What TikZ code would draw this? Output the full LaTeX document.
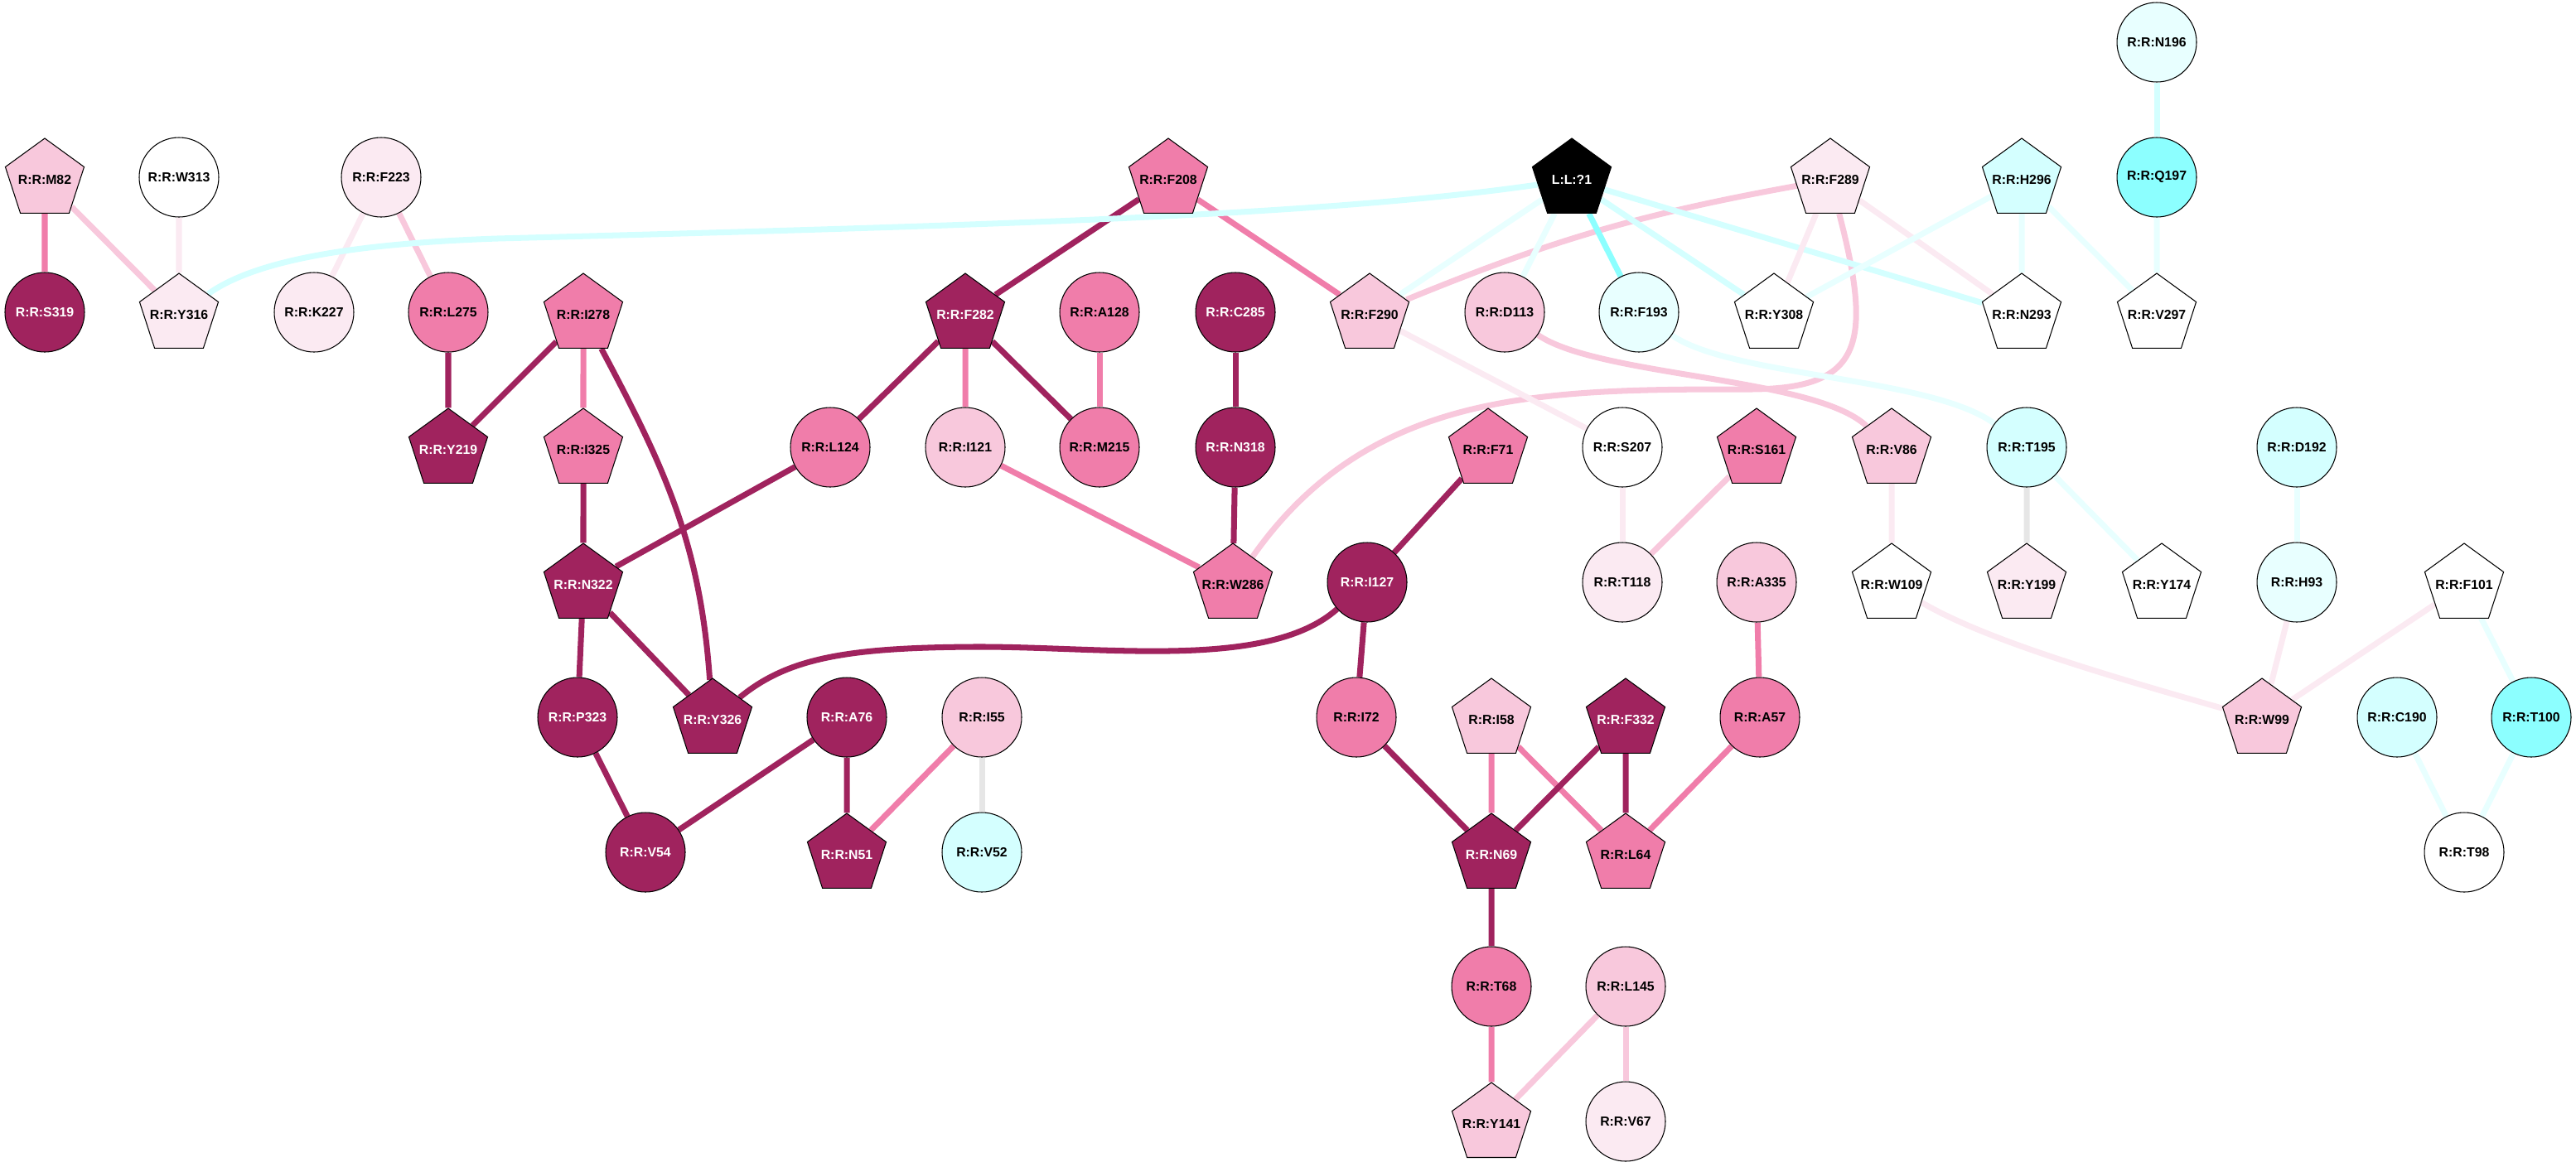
\documentclass[tikz,border=0pt]{standalone}
\usepackage{fontspec}
\usepackage{tikz}
\usetikzlibrary{shapes.geometric}
\newfontfamily\labfont{Liberation Sans}
\newcommand{\reslabel}{\labfont\bfseries\fontsize{4.5}{5}\selectfont}
\definecolor{cdark}{RGB}{160,35,94}
\definecolor{cmed}{RGB}{240,125,170}
\definecolor{clight}{RGB}{248,200,220}
\definecolor{cvlight}{RGB}{251,234,242}
\definecolor{ccyan}{RGB}{140,255,255}
\definecolor{clcyan}{RGB}{212,255,255}
\definecolor{cvcyan}{RGB}{232,255,255}
\definecolor{cgrey}{RGB}{230,230,230}
\pgfdeclarelayer{edges}
\pgfsetlayers{edges,main}
\tikzset{
  res/.style={circle, draw, line width=0.3pt, minimum size=0.96cm, inner sep=0pt, font=\reslabel},
  pent/.style={regular polygon, regular polygon sides=5, draw, line width=0.3pt, minimum size=1.0cm,
    inner xsep=-0.15cm, inner ysep=0pt, yshift=-0.03cm, font=\reslabel},
  dk/.style={fill=cdark, text=white}, md/.style={fill=cmed}, lt/.style={fill=clight},
  vl/.style={fill=cvlight}, wh/.style={fill=white}, cy/.style={fill=ccyan},
  lc/.style={fill=clcyan}, vc/.style={fill=cvcyan}, lig/.style={fill=black, text=white},
  ldk/.style={line width=2pt, draw=cdark}, lmd/.style={line width=2pt, draw=cmed},
  llt/.style={line width=2pt, draw=clight}, lvl/.style={line width=2pt, draw=cvlight},
  lgr/.style={line width=2pt, draw=cgrey}, lcy/.style={line width=2pt, draw=ccyan},
  llc/.style={line width=2pt, draw=clcyan}, lvc/.style={line width=2pt, draw=cvcyan}
}
\begin{document}
\begin{tikzpicture}
\useasboundingbox (0,0) rectangle (31.09,-14.08);

\node[res,vc] (n196) at (26.03,-0.51) {R:R:N196};

\node[pent,lt] (m82) at (0.54,-2.14) {R:R:M82};
\node[res,wh] (w313) at (2.16,-2.14) {R:R:W313};
\node[res,vl] (f223) at (4.60,-2.14) {R:R:F223};
\node[pent,md] (f208) at (14.10,-2.14) {R:R:F208};
\node[pent,lig] (l1) at (18.97,-2.14) {L:L:?1};
\node[pent,vl] (f289) at (22.09,-2.14) {R:R:F289};
\node[pent,lc] (h296) at (24.40,-2.14) {R:R:H296};
\node[res,cy] (q197) at (26.03,-2.14) {R:R:Q197};

\node[res,dk] (s319) at (0.54,-3.77) {R:R:S319};
\node[pent,vl] (y316) at (2.16,-3.77) {R:R:Y316};
\node[res,vl] (k227) at (3.79,-3.77) {R:R:K227};
\node[res,md] (l275) at (5.41,-3.77) {R:R:L275};
\node[pent,md] (i278) at (7.04,-3.77) {R:R:I278};
\node[pent,dk] (f282) at (11.65,-3.77) {R:R:F282};
\node[res,md] (a128) at (13.27,-3.77) {R:R:A128};
\node[res,dk] (c285) at (14.91,-3.77) {R:R:C285};
\node[pent,lt] (f290) at (16.53,-3.77) {R:R:F290};
\node[res,lt] (d113) at (18.16,-3.77) {R:R:D113};
\node[res,vc] (f193) at (19.78,-3.77) {R:R:F193};
\node[pent,wh] (y308) at (21.41,-3.77) {R:R:Y308};
\node[pent,wh] (n293) at (24.40,-3.77) {R:R:N293};
\node[pent,wh] (v297) at (26.03,-3.77) {R:R:V297};

\node[pent,dk] (y219) at (5.41,-5.40) {R:R:Y219};
\node[pent,md] (i325) at (7.04,-5.40) {R:R:I325};
\node[res,md] (l124) at (10.02,-5.40) {R:R:L124};
\node[res,lt] (i121) at (11.65,-5.40) {R:R:I121};
\node[res,md] (m215) at (13.27,-5.40) {R:R:M215};
\node[res,dk] (n318) at (14.91,-5.40) {R:R:N318};
\node[pent,md] (f71) at (17.96,-5.40) {R:R:F71};
\node[res,wh] (s207) at (19.58,-5.40) {R:R:S207};
\node[pent,md] (s161) at (21.20,-5.40) {R:R:S161};
\node[pent,lt] (v86) at (22.83,-5.40) {R:R:V86};
\node[res,lc] (t195) at (24.46,-5.40) {R:R:T195};
\node[res,lc] (d192) at (27.72,-5.40) {R:R:D192};

\node[pent,dk] (n322) at (7.04,-7.03) {R:R:N322};
\node[pent,md] (w286) at (14.88,-7.03) {R:R:W286};
\node[res,dk] (i127) at (16.50,-7.03) {R:R:I127};
\node[res,vl] (t118) at (19.58,-7.03) {R:R:T118};
\node[res,lt] (a335) at (21.20,-7.03) {R:R:A335};
\node[pent,wh] (w109) at (22.83,-7.03) {R:R:W109};
\node[pent,vl] (y199) at (24.46,-7.03) {R:R:Y199};
\node[pent,wh] (y174) at (26.09,-7.03) {R:R:Y174};
\node[res,vc] (h93) at (27.72,-7.03) {R:R:H93};
\node[pent,wh] (f101) at (29.74,-7.03) {R:R:F101};

\node[res,dk] (p323) at (6.97,-8.66) {R:R:P323};
\node[pent,dk] (y326) at (8.60,-8.66) {R:R:Y326};
\node[res,dk] (a76) at (10.22,-8.66) {R:R:A76};
\node[res,lt] (i55) at (11.85,-8.66) {R:R:I55};
\node[res,md] (i72) at (16.37,-8.66) {R:R:I72};
\node[pent,lt] (i58) at (18.00,-8.66) {R:R:I58};
\node[pent,dk] (f332) at (19.62,-8.66) {R:R:F332};
\node[res,md] (a57) at (21.24,-8.66) {R:R:A57};
\node[pent,lt] (w99) at (27.30,-8.66) {R:R:W99};
\node[res,lc] (c190) at (28.93,-8.66) {R:R:C190};
\node[res,cy] (t100) at (30.55,-8.66) {R:R:T100};

\node[res,dk] (v54) at (7.79,-10.29) {R:R:V54};
\node[pent,dk] (n51) at (10.22,-10.29) {R:R:N51};
\node[res,lc] (v52) at (11.85,-10.29) {R:R:V52};
\node[pent,dk] (n69) at (18.00,-10.29) {R:R:N69};
\node[pent,md] (l64) at (19.62,-10.29) {R:R:L64};
\node[res,wh] (t98) at (29.74,-10.29) {R:R:T98};

\node[res,md] (t68) at (18.00,-11.91) {R:R:T68};
\node[res,lt] (l145) at (19.62,-11.91) {R:R:L145};
\node[pent,lt] (y141) at (18.00,-13.54) {R:R:Y141};
\node[res,vl] (v67) at (19.62,-13.54) {R:R:V67};

\begin{pgfonlayer}{edges}
\draw[lmd] (m82) -- (s319);
\draw[llt] (m82) -- (y316);
\draw[lvl] (w313) -- (y316);
\draw[lvl] (f223) -- (k227);
\draw[llt] (f223) -- (l275);
\draw[ldk] (l275) -- (y219);
\draw[ldk] (i278) -- (y219);
\draw[lmd] (i278) -- (i325);
\draw[ldk] (i278) to[out=-62,in=94] (y326);
\draw[ldk] (i325) -- (n322);
\draw[ldk] (n322) -- (l124);
\draw[ldk] (n322) -- (p323);
\draw[ldk] (n322) -- (y326);
\draw[ldk] (p323) -- (v54);
\draw[ldk] (a76) -- (v54);
\draw[ldk] (a76) -- (n51);
\draw[lmd] (i55) -- (n51);
\draw[lgr] (i55) -- (v52);
\draw[ldk] (y326) .. controls (9.5,-7.95) and (10.2,-7.82) .. (11.74,-7.81)
  .. controls (13.3,-7.8) and (15.3,-8.1) .. (i127);
\draw[ldk] (f208) -- (f282);
\draw[lmd] (f208) -- (f290);
\draw[ldk] (f282) -- (l124);
\draw[lmd] (f282) -- (i121);
\draw[ldk] (f282) -- (m215);
\draw[lmd] (a128) -- (m215);
\draw[ldk] (c285) -- (n318);
\draw[ldk] (n318) -- (w286);
\draw[lmd] (i121) -- (w286);
\draw[llt] (f289) to[bend right=6] (f290);
\draw[llt] (f289) .. controls (22.62,-4.2) and (22.45,-4.7) .. (21.1,-4.7) to[out=180,in=55] (w286);
\draw[llt] (d113) .. controls (19.3,-4.55) and (21.9,-4.55) .. (v86);
\draw[llc] (y316) .. controls (3.0,-3.2) and (4.0,-2.95) .. (6.0,-2.88)
  .. controls (12,-2.72) and (16,-2.6) .. (l1);
\draw[lvc] (l1) -- (f290);
\draw[lvc] (l1) -- (d113);
\draw[lcy] (l1) -- (f193);
\draw[llc] (l1) -- (y308);
\draw[llc] (l1) -- (n293);
\draw[lvl] (f289) -- (y308);
\draw[lvl] (f289) -- (n293);
\draw[lvc] (h296) -- (y308);
\draw[lvc] (h296) -- (n293);
\draw[lvc] (h296) -- (v297);
\draw[llc] (n196) -- (q197);
\draw[lvc] (q197) -- (v297);
\draw[lvc] (f193) .. controls (20.9,-4.55) and (23.3,-4.55) .. (t195);
\draw[lgr] (t195) -- (y199);
\draw[lvc] (t195) -- (y174);
\draw[lvl] (f290) -- (s207);
\draw[lvl] (s207) -- (t118);
\draw[llt] (s161) -- (t118);
\draw[ldk] (f71) -- (i127);
\draw[ldk] (i127) -- (i72);
\draw[ldk] (i72) -- (n69);
\draw[lmd] (i58) -- (n69);
\draw[lmd] (i58) -- (l64);
\draw[ldk] (f332) -- (n69);
\draw[ldk] (f332) -- (l64);
\draw[lmd] (a57) -- (l64);
\draw[lmd] (a335) -- (a57);
\draw[ldk] (n69) -- (t68);
\draw[lmd] (t68) -- (y141);
\draw[llt] (l145) -- (y141);
\draw[llt] (l145) -- (v67);
\draw[lvl] (v86) -- (w109);
\draw[lvl] (w109) .. controls (24.0,-7.75) and (25.6,-8.2) .. (w99);
\draw[lvl] (h93) -- (w99);
\draw[lvl] (f101) -- (w99);
\draw[lvc] (d192) -- (h93);
\draw[lvc] (f101) -- (t100);
\draw[lvc] (c190) -- (t98);
\draw[lvc] (t100) -- (t98);
\end{pgfonlayer}
\end{tikzpicture}
\end{document}
